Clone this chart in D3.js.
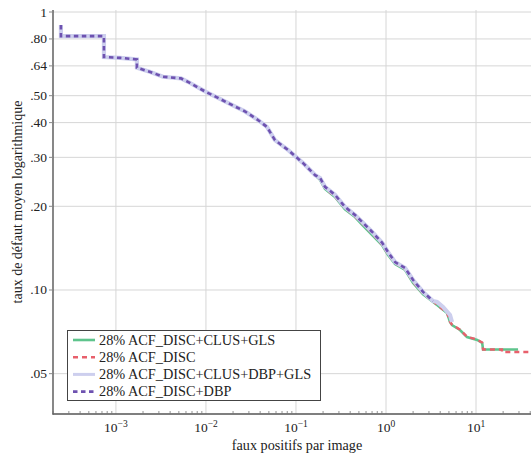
<!DOCTYPE html>
<meta charset="utf-8">
<style>
    body { margin: 0; background: #fff; }
    text { font-family: "Liberation Serif", serif; fill: #222; }
    .grid line { stroke: #d6d6d6; stroke-width: 1; }
    .curve { fill: none; stroke-linejoin: miter; }
</style>
<svg width="531" height="457"></svg>
<script src="https://d3js.org/d3.v7.min.js"></script>
<script>
    // shared start of all four curves (false positives per image, miss rate)
    var fppiHead = [2.45e-4, 2.45e-4, 7.36e-4, 7.36e-4, 1.11e-3, 1.71e-3, 1.71e-3, 2.37e-3, 3.33e-3, 5.27e-3, 6.31e-3,
        9.75e-3, 1.36e-2, 1.94e-2, 2.71e-2, 3.78e-2, 4.76e-2, 5.84e-2, 8.15e-2, 0.120, 0.163];
    var rateHead = [0.898, 0.819, 0.819, 0.689, 0.684, 0.675, 0.630, 0.610, 0.585, 0.577, 0.561,
        0.518, 0.491, 0.463, 0.439, 0.409, 0.386, 0.346, 0.319, 0.286, 0.259];

    // ACF_DISC+CLUS+GLS
    var fppiGls = [0.185, 0.210, 0.271, 0.350, 0.453, 0.541, 0.699, 0.903, 1.05, 1.26, 1.63, 2.0, 2.58, 3.69, 4.76, 5.14, 5.41, 6.64, 7.94, 10.3, 11.7, 11.97, 29.3];
    var rateGls = [0.249, 0.231, 0.216, 0.195, 0.183, 0.172, 0.158, 0.145, 0.134, 0.124, 0.118, 0.106, 0.0965, 0.0883, 0.0827, 0.0767, 0.0748, 0.0718, 0.0677, 0.0661, 0.0645, 0.0611, 0.0611];

    // ACF_DISC
    var fppiDisc = [0.185, 0.210, 0.271, 0.350, 0.453, 0.541, 0.699, 0.903, 1.05, 1.26, 1.63, 2.0, 2.58, 3.69, 4.76, 5.14, 5.41, 6.64, 7.94, 10.3, 11.7, 11.97, 19.4, 19.4, 40.8];
    var rateDisc = [0.251, 0.233, 0.217, 0.197, 0.184, 0.174, 0.160, 0.146, 0.135, 0.125, 0.119, 0.107, 0.0972, 0.0886, 0.0829, 0.0769, 0.0750, 0.0720, 0.0679, 0.0663, 0.0647, 0.0611, 0.0611, 0.0598, 0.0598];

    // ACF_DISC+CLUS+DBP+GLS
    var fppiDbpGls = [0.185, 0.210, 0.271, 0.350, 0.453, 0.541, 0.699, 0.903, 1.05, 1.26, 1.63, 2.0, 2.58, 3.33, 3.69, 4.30, 5.14, 5.41];
    var rateDbpGls = [0.253, 0.235, 0.220, 0.199, 0.186, 0.176, 0.162, 0.148, 0.137, 0.126, 0.120, 0.1086, 0.0984, 0.0913, 0.0905, 0.0869, 0.0813, 0.0767];

    // ACF_DISC+DBP
    var fppiDbp = [0.185, 0.210, 0.271, 0.350, 0.453, 0.541, 0.699, 0.903, 1.05, 1.26, 1.63, 2.0, 2.58, 3.33];
    var rateDbp = [0.253, 0.235, 0.220, 0.199, 0.186, 0.176, 0.162, 0.148, 0.137, 0.126, 0.120, 0.1086, 0.0984, 0.0913];

    var seriesNames = ["28% ACF_DISC+CLUS+GLS", "28% ACF_DISC", "28% ACF_DISC+CLUS+DBP+GLS", "28% ACF_DISC+DBP"];
    var yTickValues = [1, 0.8, 0.64, 0.5, 0.4, 0.3, 0.2, 0.1, 0.05];
    var yTickLabels = ["1", ".80", ".64", ".50", ".40", ".30", ".20", ".10", ".05"];
    var xTickValues = [1e-3, 1e-2, 1e-1, 1, 10];
    var xTickExp = ["\u22123", "\u22122", "\u22121", "0", "1"];

    var styles = [
        {color: "#5ec48c", width: 2.6, dash: null},
        {color: "#e8606c", width: 2.4, dash: "5,4"},
        {color: "#cdcfee", width: 4.2, dash: null},
        {color: "#6e52b0", width: 2.6, dash: "4.5,3.5"}
    ];

    var svg = d3.select("svg"),
        plotLeft = 53, plotRight = 531, plotTop = 12, plotBottom = 414;

    var x = d3.scaleLog().domain([2e-4, 40.8]).range([plotLeft, plotRight]);
    var y = d3.scaleLog().domain([0.0358, 1]).range([plotBottom, plotTop]);

    svg.append("clipPath").attr("id", "clip")
        .append("rect").attr("x", plotLeft).attr("y", 0).attr("width", plotRight - plotLeft).attr("height", plotBottom);

    // grid
    var grid = svg.append("g").attr("class", "grid");
    grid.selectAll(".gx").data(xTickValues).enter().append("line")
        .attr("x1", function(d) { return x(d); }).attr("x2", function(d) { return x(d); })
        .attr("y1", plotTop - 2).attr("y2", plotBottom);
    grid.selectAll(".gy").data(yTickValues).enter().append("line")
        .attr("y1", function(d) { return y(d); }).attr("y2", function(d) { return y(d); })
        .attr("x1", plotLeft).attr("x2", plotRight);

    // curves
    var series = [
        {x: fppiHead.concat(fppiGls), y: rateHead.concat(rateGls)},
        {x: fppiHead.concat(fppiDisc), y: rateHead.concat(rateDisc)},
        {x: fppiHead.concat(fppiDbpGls), y: rateHead.concat(rateDbpGls)},
        {x: fppiHead.concat(fppiDbp), y: rateHead.concat(rateDbp)}
    ];

    var line = d3.line()
        .x(function(d) { return x(d[0]); })
        .y(function(d) { return y(d[1]); });

    var curves = svg.append("g").attr("clip-path", "url(#clip)");
    series.forEach(function(s, i) {
        var pts = s.x.map(function(v, j) { return [v, s.y[j]]; });
        curves.append("path")
            .attr("class", "curve")
            .attr("d", line(pts))
            .attr("stroke", styles[i].color)
            .attr("stroke-width", styles[i].width)
            .attr("stroke-dasharray", styles[i].dash);
    });

    // axes
    svg.append("line").attr("x1", plotLeft).attr("x2", plotLeft).attr("y1", plotTop - 2).attr("y2", plotBottom + 0.5)
        .attr("stroke", "#555").attr("stroke-width", 1.4);
    svg.append("line").attr("x1", plotLeft - 0.5).attr("x2", plotRight).attr("y1", plotBottom).attr("y2", plotBottom)
        .attr("stroke", "#555").attr("stroke-width", 1.4);

    // minor ticks on x
    var minor = x.ticks().filter(function(d) {
        var l = Math.log10(d);
        return Math.abs(l - Math.round(l)) > 1e-6;
    });
    svg.append("g").selectAll("line").data(minor).enter().append("line")
        .attr("x1", function(d) { return x(d); }).attr("x2", function(d) { return x(d); })
        .attr("y1", plotBottom).attr("y2", plotBottom - 3)
        .attr("stroke", "#777").attr("stroke-width", 0.8);

    // y ticks and labels
    var yt = svg.append("g");
    yt.selectAll("line").data(yTickValues).enter().append("line")
        .attr("x1", plotLeft - 4).attr("x2", plotLeft)
        .attr("y1", function(d) { return y(d); }).attr("y2", function(d) { return y(d); })
        .attr("stroke", "#888").attr("stroke-width", 1);
    yt.selectAll("text").data(yTickValues).enter().append("text")
        .attr("x", plotLeft - 6)
        .attr("y", function(d) { return y(d) + 4.5; })
        .attr("text-anchor", "end")
        .style("font-size", "13.5px")
        .text(function(d, i) { return yTickLabels[i]; });

    // x tick labels
    var xt = svg.append("g").selectAll("text").data(xTickValues).enter().append("text")
        .attr("x", function(d) { return x(d); })
        .attr("y", 432)
        .attr("text-anchor", "middle")
        .style("font-size", "13.5px");
    xt.append("tspan").text("10");
    xt.append("tspan").attr("dy", -5.5).style("font-size", "9.5px")
        .text(function(d, i) { return xTickExp[i]; });

    // axis titles
    svg.append("text").attr("x", 297).attr("y", 450).attr("text-anchor", "middle")
        .style("font-size", "14.2px").text("faux positifs par image");
    svg.append("text").attr("transform", "translate(22,202) rotate(-90)")
        .attr("text-anchor", "middle")
        .style("font-size", "14px").text("taux de défaut moyen logarithmique");

    // legend
    var lg = svg.append("g");
    lg.append("rect").attr("x", 67.5).attr("y", 330.5).attr("width", 253).attr("height", 70)
        .attr("fill", "#fff").attr("stroke", "#444").attr("stroke-width", 1);
    seriesNames.forEach(function(name, i) {
        var cy = 340 + i * 17.2;
        lg.append("line").attr("x1", 73).attr("x2", 95).attr("y1", cy).attr("y2", cy)
            .attr("stroke", styles[i].color)
            .attr("stroke-width", i === 2 ? 3 : styles[i].width)
            .attr("stroke-dasharray", styles[i].dash);
        lg.append("text").attr("x", 99).attr("y", cy + 4.6)
            .style("font-size", "14.3px").text(name);
    });
</script>
